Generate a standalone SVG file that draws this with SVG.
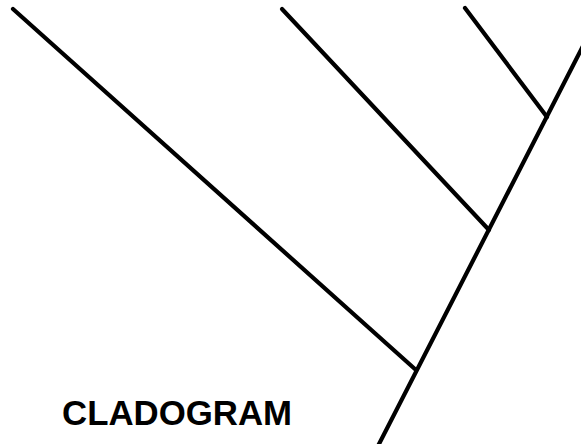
<svg xmlns="http://www.w3.org/2000/svg" width="581" height="444" viewBox="0 0 581 444">
<style>
.l{stroke:#000;stroke-width:4.2;fill:none;stroke-linecap:round}
.t{font-family:"Liberation Sans",Arial,sans-serif;font-weight:bold;font-size:34.8px;fill:#000}
</style>
<rect width="581" height="444" fill="#fff"/>
<g id="connectors">
<line class="l" x1="378" y1="446" x2="584" y2="44"/>
<line class="l" x1="13" y1="9" x2="416" y2="370"/>
<line class="l" x1="282" y1="9" x2="489" y2="230"/>
<line class="l" x1="465" y1="8" x2="547" y2="117"/>
</g>
<g id="label"><text class="t" x="62" y="425">CLADOGRAM</text></g>
</svg>
